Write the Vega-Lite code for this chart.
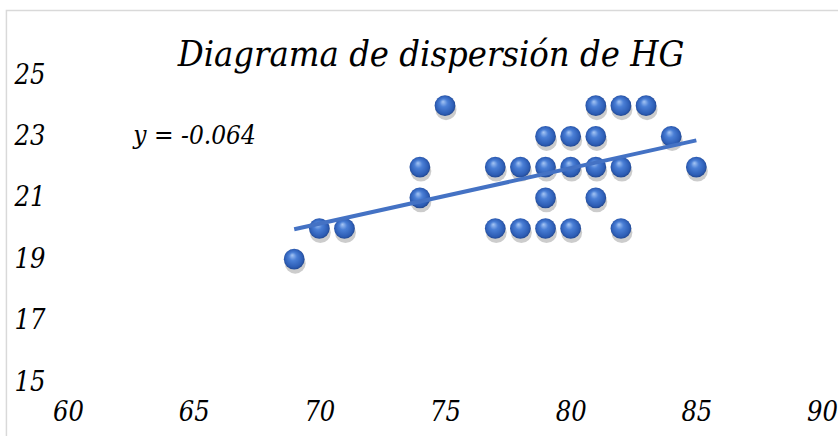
{
  "$schema": "https://vega.github.io/schema/vega-lite/v6.json",
  "width": 754,
  "height": 307,
  "autosize": {"type": "none"},
  "padding": {"left": 68, "top": 75, "right": 16, "bottom": 54},
  "background": "white",
  "config": {
    "view": {"stroke": null},
    "font": "DejaVu Serif Condensed",
    "axis": {
      "domain": false, "ticks": false, "grid": false,
      "labelFont": "DejaVu Serif Condensed", "labelFontStyle": "italic", "labelFontSize": 27,
      "labelColor": "#000000", "labelFlush": false, "labelOverlap": false
    },
    "axisX": {"labelPadding": 17},
    "axisY": {"labelPadding": 23}
  },
  "title": {
    "text": "Diagrama de dispersión de HG",
    "font": "DejaVu Serif Condensed",
    "fontSize": 36,
    "fontStyle": "italic",
    "fontWeight": "normal",
    "color": "#000000",
    "anchor": "middle",
    "baseline": "alphabetic",
    "offset": -92,
    "dx": -14
  },
  "datasets": {
    "hg": [
      {"x": 69, "y": 19}, {"x": 70, "y": 20}, {"x": 71, "y": 20},
      {"x": 74, "y": 22}, {"x": 74, "y": 21}, {"x": 75, "y": 24},
      {"x": 77, "y": 22}, {"x": 78, "y": 22}, {"x": 79, "y": 22}, {"x": 80, "y": 22}, {"x": 81, "y": 22}, {"x": 82, "y": 22},
      {"x": 85, "y": 22},
      {"x": 79, "y": 23}, {"x": 80, "y": 23}, {"x": 81, "y": 23}, {"x": 84, "y": 23},
      {"x": 81, "y": 24}, {"x": 82, "y": 24}, {"x": 83, "y": 24},
      {"x": 79, "y": 21}, {"x": 81, "y": 21},
      {"x": 77, "y": 20}, {"x": 78, "y": 20}, {"x": 79, "y": 20}, {"x": 80, "y": 20}, {"x": 82, "y": 20}
    ],
    "frame": [{"frame": "chart area"}],
    "eq": [{"label": "y = -0.064"}]
  },
  "layer": [
    {
      "data": {"name": "frame"},
      "mark": {"type": "rect", "fill": null, "stroke": "#d9d9d9", "strokeWidth": 1.5, "clip": false},
      "encoding": {
        "x": {"datum": 57.55, "type": "quantitative", "title": null, "scale": {"domain": [60, 90], "nice": false, "zero": false}, "axis": {"title": null, "values": [60, 65, 70, 75, 80, 85, 90]}},
        "x2": {"datum": 100},
        "y": {"datum": 27.1, "type": "quantitative", "title": null, "scale": {"domain": [15, 25], "nice": false, "zero": false}, "axis": {"title": null, "values": [15, 17, 19, 21, 23, 25]}},
        "y2": {"datum": 10}
      }
    },
    {
      "data": {"name": "hg"},
      "mark": {"type": "point", "filled": true, "shape": "circle", "size": 440, "fill": "#000000", "opacity": 0.2, "yOffset": 4, "xOffset": 1, "stroke": null},
      "encoding": {
        "x": {"field": "x", "type": "quantitative", "title": null, "scale": {"domain": [60, 90], "nice": false, "zero": false}, "axis": {"title": null, "values": [60, 65, 70, 75, 80, 85, 90]}},
        "y": {"field": "y", "type": "quantitative", "title": null, "scale": {"domain": [15, 25], "nice": false, "zero": false}, "axis": {"title": null, "values": [15, 17, 19, 21, 23, 25]}}
      }
    },
    {
      "data": {"name": "hg"},
      "mark": {
        "type": "point", "filled": true, "shape": "circle", "size": 430, "opacity": 1,
        "fill": {
          "gradient": "radial",
          "x1": 0.4, "y1": 0.3, "r1": 0,
          "x2": 0.5, "y2": 0.5, "r2": 0.55,
          "stops": [
            {"offset": 0, "color": "#a9c8f5"},
            {"offset": 0.35, "color": "#4a7fd6"},
            {"offset": 0.8, "color": "#2c5cb4"},
            {"offset": 1, "color": "#1c3c7c"}
          ]
        },
        "stroke": null
      },
      "encoding": {
        "x": {"field": "x", "type": "quantitative", "title": null, "scale": {"domain": [60, 90], "nice": false, "zero": false}, "axis": {"title": null, "values": [60, 65, 70, 75, 80, 85, 90]}},
        "y": {"field": "y", "type": "quantitative", "title": null, "scale": {"domain": [15, 25], "nice": false, "zero": false}, "axis": {"title": null, "values": [15, 17, 19, 21, 23, 25]}}
      }
    },
    {
      "data": {"name": "hg"},
      "transform": [{"regression": "y", "on": "x", "method": "linear", "extent": [69, 85]}],
      "mark": {"type": "line", "color": "#4472C4", "strokeWidth": 4},
      "encoding": {
        "x": {"field": "x", "type": "quantitative", "title": null, "scale": {"domain": [60, 90], "nice": false, "zero": false}, "axis": {"title": null, "values": [60, 65, 70, 75, 80, 85, 90]}},
        "y": {"field": "y", "type": "quantitative", "title": null, "scale": {"domain": [15, 25], "nice": false, "zero": false}, "axis": {"title": null, "values": [15, 17, 19, 21, 23, 25]}}
      }
    },
    {
      "data": {"name": "eq"},
      "mark": {"type": "text", "font": "DejaVu Serif Condensed", "fontStyle": "italic", "fontWeight": "normal", "fontSize": 26, "align": "left", "baseline": "middle", "color": "#000000"},
      "encoding": {
        "text": {"field": "label"},
        "x": {"datum": 62.6, "type": "quantitative", "title": null, "scale": {"domain": [60, 90], "nice": false, "zero": false}, "axis": {"title": null, "values": [60, 65, 70, 75, 80, 85, 90]}},
        "y": {"datum": 23, "type": "quantitative", "title": null, "scale": {"domain": [15, 25], "nice": false, "zero": false}, "axis": {"title": null, "values": [15, 17, 19, 21, 23, 25]}}
      }
    }
  ]
}
